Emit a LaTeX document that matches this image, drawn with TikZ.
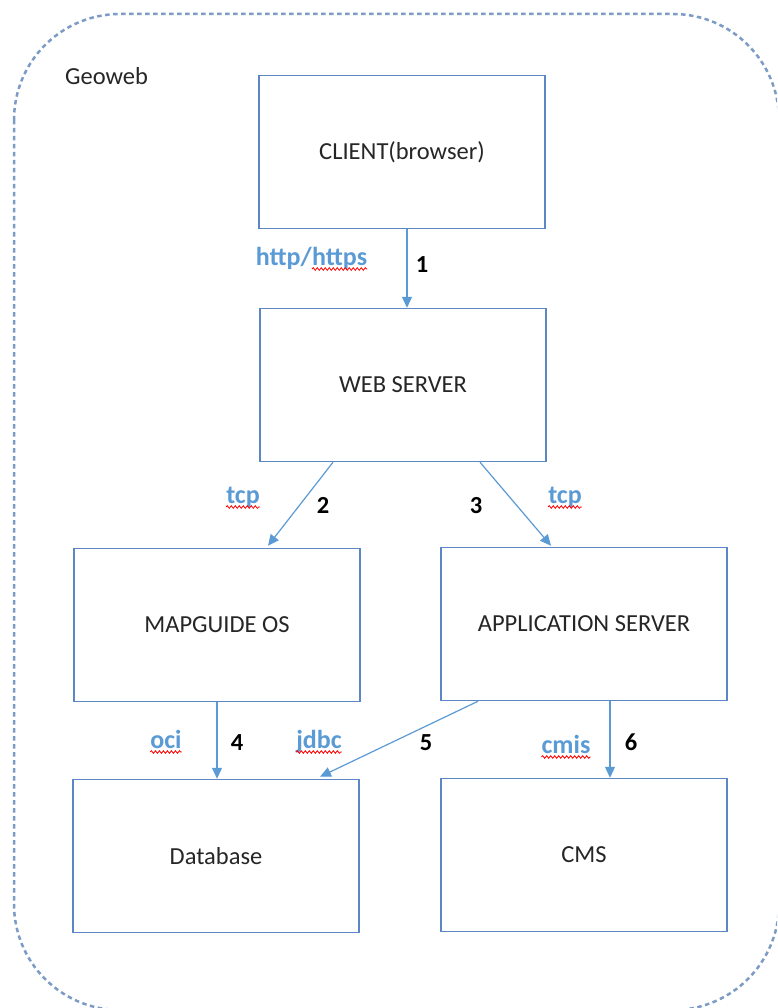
\documentclass[tikz,border=0pt]{standalone}
\usepackage{fontspec}
\setmainfont{Carlito}
\usetikzlibrary{arrows.meta, calc, decorations.pathmorphing}

\definecolor{boxblue}{RGB}{91,136,196}
\definecolor{linkblue}{RGB}{91,155,213}
\definecolor{framegray}{RGB}{125,156,197}
\definecolor{textdark}{RGB}{38,38,38}

\begin{document}
\begin{tikzpicture}[x=1pt, y=-1pt,
    every node/.style={font=\fontsize{24.5}{29}\selectfont, text=textdark},
    box/.style={draw=boxblue, line width=1.5pt, minimum width=286pt, minimum height=153pt, inner sep=0pt},
    link/.style={draw=linkblue, line width=1.2pt, -{Triangle[length=11pt, width=10pt]}},
    proto/.style={font=\fontsize{26}{30}\selectfont\bfseries, text=linkblue, inner sep=0pt},
    num/.style={font=\fontsize{24.5}{29}\selectfont\bfseries, text=black, inner sep=0pt},
    spell/.style={draw=red, line width=0.8pt, decorate, decoration={snake, amplitude=1.3pt, segment length=4pt}}]

    % Bidang gambar
    \useasboundingbox (0,0) rectangle (777,1008);
    \fill[white] (0,0) rectangle (777,1008);

    % Batas Geoweb (putus-putus)
    \begin{scope}
        \clip (0,0) rectangle (777,1008);
        \draw[framegray, line width=2.5pt, dash pattern=on 4.5pt off 3.5pt, rounded corners=106pt] (14,14) rectangle (779,1010);
    \end{scope}
    \node[anchor=base west, inner sep=0pt] (geoweb) at (65,85) {Geoweb};

    % Kotak komponen
    \node[box] (client) at (402,152) {CLIENT(browser)};
    \node[box] (web) at (403,385) {WEB SERVER};
    \node[box] (mapguide) at (217,625) {MAPGUIDE OS};
    \node[box] (app) at (584,624) {APPLICATION SERVER};
    \node[box] (db) at (216,856) {Database};
    \node[box] (cms) at (584,855) {CMS};

    % Panah antar komponen
    \coordinate (c1) at ($(client.south)+(5,0)$);
    \draw[link] (c1) -- (c1 |- web.north);
    \draw[link] ($(web.south)+(-70,0)$) -- ($(mapguide.north)+(51,-2)$);
    \draw[link] ($(web.south)+(77,0)$) -- ($(app.north)+(-33,-1)$);
    \draw[link] (mapguide.south) -- (mapguide.south |- db.north);
    \draw[link] ($(app.south)+(-106,0)$) -- ($(db.north)+(104,-2)$);
    \coordinate (c6) at ($(app.south)+(26,0)$);
    \draw[link] (c6) -- (c6 |- cms.north);

    % Nomor langkah
    \foreach \name/\x/\y/\txt in {n1/422/272/1, n2/323/513/2, n3/476/513/3, n4/237/750/4, n5/426/750/5, n6/631/750/6}
        \node[num, anchor=base] (\name) at (\x,\y) {\txt};

    % Protokol
    \node[proto, anchor=base east] (http) at (312,265) {http/};
    \node[proto, anchor=base west] (https) at (http.base east) {https};
    \draw[spell] ($(https.base west)+(0,4)$) -- ($(https.base east)+(0,4)$);
    \foreach \name/\x/\y/\txt in {tcpa/243/503/tcp, tcpb/565/503/tcp, oci/166/748/oci, jdbc/319/748/jdbc, cmis/566/753/cmis} {
        \node[proto, anchor=base] (\name) at (\x,\y) {\txt};
        \draw[spell] ($(\name.base west)+(0,4)$) -- ($(\name.base east)+(0,4)$);
    }
\end{tikzpicture}
\end{document}
